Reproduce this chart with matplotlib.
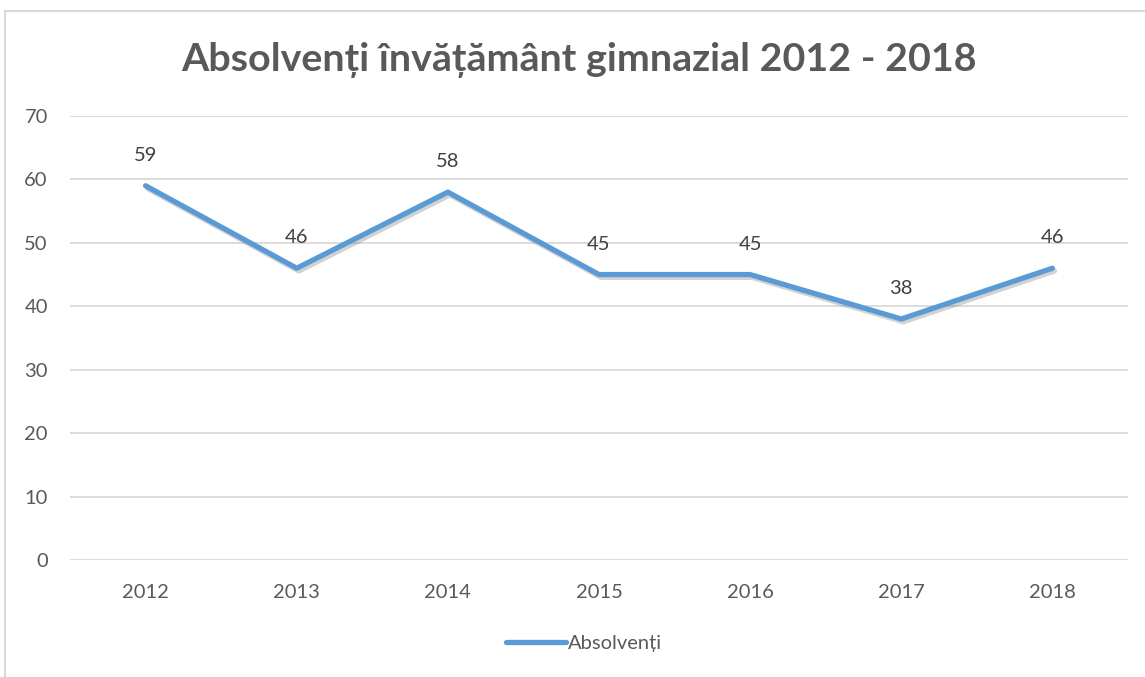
import matplotlib
matplotlib.use("Agg")
import matplotlib.pyplot as plt
import matplotlib.patheffects as pe
from matplotlib.lines import Line2D

years = ["2012", "2013", "2014", "2015", "2016", "2017", "2018"]
values = [59, 46, 58, 45, 45, 38, 46]
series_name = "Absolvenți"
title = "Absolvenți învățământ gimnazial 2012 - 2018"
yticks = [0, 10, 20, 30, 40, 50, 60, 70]

plt.rcParams['font.family'] = ['Lato', 'DejaVu Sans']

W, H = 1145, 677
fig = plt.figure(figsize=(W / 100, H / 100), dpi=100)

# chart frame (top and left borders visible)
fig.add_artist(Line2D([5 / W, 5 / W], [0, 1 - 11 / H], color="#d9d9d9", lw=1.5, transform=fig.transFigure))
fig.add_artist(Line2D([5 / W, 1], [1 - 11 / H, 1 - 11 / H], color="#d9d9d9", lw=1.5, transform=fig.transFigure))

left, right = 70 / W, 1128 / W
top, bottom = 1 - 116 / H, 1 - 560 / H
ax = fig.add_axes([left, bottom, right - left, top - bottom])

x = list(range(len(years)))
line, = ax.plot(x, values, color="#5B9BD5", lw=3.8, solid_capstyle="round", solid_joinstyle="round",
                zorder=3,
                path_effects=[pe.SimpleLineShadow(offset=(1.5, -2), shadow_color="#7f7f7f", alpha=0.35),
                              pe.Normal()])

for xi, v in zip(x, values):
    ax.annotate(str(v), (xi, v), xytext=(0, 22), textcoords="offset points",
                ha="center", va="center", fontsize=14.5, color="#404040")

ax.set_xlim(-0.5, len(years) - 0.5)
ax.set_ylim(0, 70)
ax.set_yticks(yticks)
ax.set_xticks(x)
ax.set_xticklabels(years)
ax.grid(axis="y", color="#d9d9d9", lw=1.3)
ax.set_axisbelow(True)
for s in ax.spines.values():
    s.set_visible(False)
ax.tick_params(axis="both", length=0, labelsize=14.5, labelcolor="#595959")
ax.tick_params(axis="y", pad=16)
ax.tick_params(axis="x", pad=17)

fig.text(579 / W, 1 - 60 / H, title, ha="center", va="center", fontsize=28.4,
         fontweight="bold", color="#595959")

leg = fig.legend([Line2D([0], [0], color="#5B9BD5", lw=3.8, solid_capstyle="round")], [series_name],
                 loc="center", bbox_to_anchor=(584 / W, 1 - 643 / H), frameon=False,
                 fontsize=14.5, handlelength=3.0, handletextpad=0.1, labelcolor="#595959")

fig.savefig("out.png", dpi=100)
